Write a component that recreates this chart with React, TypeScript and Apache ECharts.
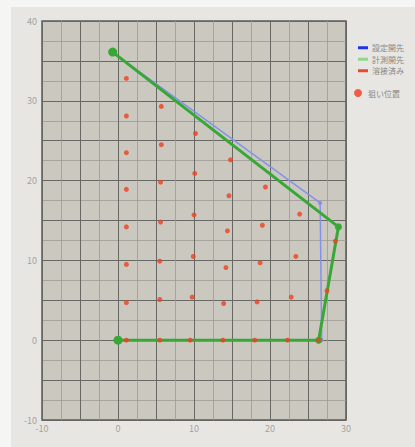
import React, { useEffect, useRef } from "react";
import * as echarts from "echarts";

// 設定開先 (set groove)
const setX = [-0.6, 26.6, 26.8, 0];
const setY = [36.0, 17.2, 0, 0];
// 計測開先 (measured groove)
const measX = [-0.7, 29.0, 26.4, 0];
const measY = [36.1, 14.2, 0, 0];
// 狙い位置 (target positions)
const targetX = [
  1.1, 1.1, 1.1, 1.1, 1.1, 1.1, 1.1, 1.1,
  5.7, 5.7, 5.6, 5.6, 5.5, 5.5, 5.5,
  10.2, 10.1, 10.0, 9.9, 9.75, 9.5,
  14.8, 14.6, 14.4, 14.2, 13.9, 13.8,
  19.4, 19.0, 18.7, 18.3, 18.0,
  23.9, 23.4, 22.8, 22.3,
  28.6, 27.5, 26.4,
];
const targetY = [
  32.8, 28.1, 23.5, 18.9, 14.2, 9.5, 4.7, 0,
  29.3, 24.5, 19.8, 14.8, 9.9, 5.1, 0,
  25.9, 20.9, 15.7, 10.5, 5.4, 0,
  22.6, 18.1, 13.7, 9.1, 4.6, 0,
  19.2, 14.4, 9.7, 4.8, 0,
  15.8, 10.5, 5.4, 0,
  12.4, 6.2, 0,
];
const xTicks = [-10, 0, 10, 20, 30];
const yTicks = [-10, 0, 10, 20, 30, 40];
const seriesNames = ["設定開先", "計測開先", "溶接済み", "狙い位置"];

export default function App() {
  const ref = useRef<HTMLDivElement>(null);
  useEffect(() => {
    if (!ref.current) return;
    const chart = echarts.init(ref.current, null, { renderer: "svg" });
    const pairs = (xs: number[], ys: number[]) => xs.map((x, i) => [x, ys[i]]);
    const measData = pairs(measX, measY).map((p, i) =>
      i === 0 || i === measX.length - 1 ? { value: p, symbolSize: 9 } : { value: p }
    );
    const font = "'Noto Sans CJK JP', 'Noto Sans', sans-serif";
    chart.setOption({
      animation: false,
      backgroundColor: "#f5f5f3",
      graphic: [
        {
          type: "rect",
          left: 11,
          top: 7,
          shape: { width: 404, height: 440 },
          style: { fill: "#e7e6e2" },
          z: -10,
          silent: true,
        },
      ],
      grid: {
        left: 42,
        right: 69,
        top: 21,
        bottom: 27,
        show: true,
        backgroundColor: "#cac8bf",
        borderColor: "#5a5a58",
        borderWidth: 1.5,
        z: 0,
      },
      xAxis: {
        type: "value",
        min: -10,
        max: 30,
        interval: 5,
        axisLine: { show: false },
        axisTick: { show: false },
        axisLabel: {
          color: "#a3a3a0",
          fontSize: 9,
          margin: 4,
          fontFamily: font,
          formatter: (v: number) => (xTicks.includes(v) ? String(v) : ""),
        },
        splitLine: { show: true, lineStyle: { color: "#676763", width: 1 } },
        minorTick: { show: false, splitNumber: 2 },
        minorSplitLine: { show: true, lineStyle: { color: "#9d9b94", width: 0.8 } },
      },
      yAxis: {
        type: "value",
        min: -10,
        max: 40,
        interval: 5,
        axisLine: { show: false },
        axisTick: { show: false },
        axisLabel: {
          color: "#a3a3a0",
          fontSize: 9,
          margin: 5,
          fontFamily: font,
          formatter: (v: number) => (yTicks.includes(v) ? String(v) : ""),
        },
        splitLine: { show: true, lineStyle: { color: "#676763", width: 1 } },
        minorTick: { show: false, splitNumber: 2 },
        minorSplitLine: { show: true, lineStyle: { color: "#9d9b94", width: 0.8 } },
      },
      legend: [
        {
          orient: "vertical",
          left: 353,
          top: 38,
          icon: "rect",
          itemWidth: 10,
          itemHeight: 3,
          itemGap: 2,
          textStyle: { color: "#888", fontSize: 8, lineHeight: 9.5, fontFamily: font, padding: [0, 0, 0, -1] },
          data: [
            { name: seriesNames[0], itemStyle: { color: "#1c35e8" } },
            { name: seriesNames[1], itemStyle: { color: "#8fd98a" } },
            { name: seriesNames[2], itemStyle: { color: "#ea4a2e" } },
          ],
          selectedMode: false,
        },
        {
          orient: "vertical",
          left: 349,
          top: 84,
          icon: "circle",
          itemWidth: 8,
          itemHeight: 8,
          textStyle: { color: "#888", fontSize: 8, fontFamily: font, padding: [0, 0, 0, 1] },
          data: [{ name: seriesNames[3], itemStyle: { color: "#ef3b22" } }],
          selectedMode: false,
        },
      ],
      series: [
        {
          name: seriesNames[0],
          type: "line",
          data: pairs(setX, setY),
          lineStyle: { color: "#8592ea", width: 1.5 },
          itemStyle: { color: "#8592ea" },
          symbol: "circle",
          symbolSize: 4,
          z: 2,
        },
        {
          name: seriesNames[1],
          type: "line",
          data: measData,
          lineStyle: { color: "#37a835", width: 3 },
          itemStyle: { color: "#37a835" },
          symbol: "circle",
          symbolSize: 7,
          z: 3,
        },
        {
          name: seriesNames[2],
          type: "line",
          data: [],
          lineStyle: { color: "#ea4a2e", width: 2 },
          itemStyle: { color: "#ea4a2e" },
          z: 3,
        },
        {
          name: seriesNames[3],
          type: "scatter",
          data: pairs(targetX, targetY),
          symbol: "circle",
          symbolSize: 5,
          itemStyle: { color: "#f0401f" },
          z: 4,
        },
      ],
    });
    return () => chart.dispose();
  }, []);
  return (
    <div
      ref={ref}
      style={{ position: "absolute", left: 0, top: 0, width: 415, height: 447 }}
    />
  );
}
